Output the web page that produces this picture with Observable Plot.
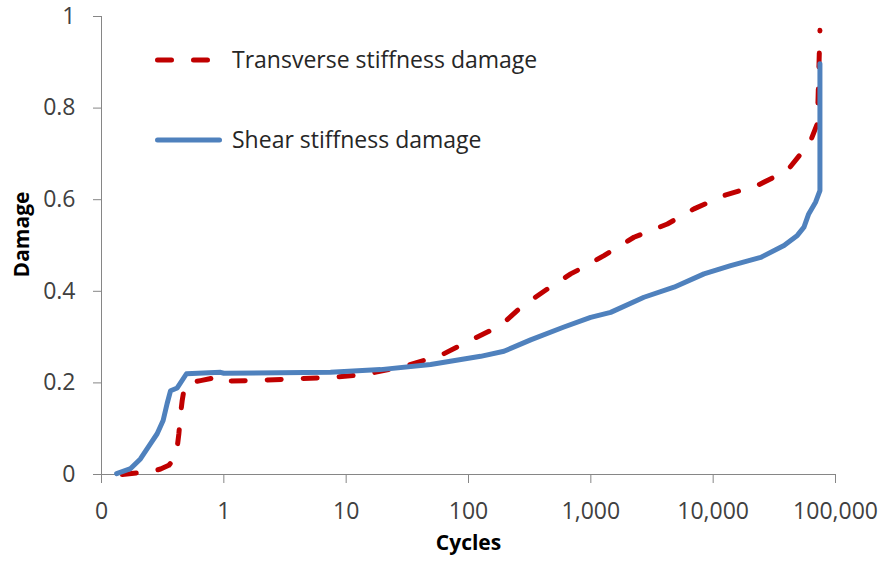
<!DOCTYPE html>
<html>
<head>
<meta charset="utf-8">
<script src="https://cdn.jsdelivr.net/npm/d3@7"></script>
<script src="https://cdn.jsdelivr.net/npm/@observablehq/plot@0.6"></script>
<style>
  html, body { margin: 0; padding: 0; background: #fff; }
  #wrap { position: relative; width: 883px; height: 567px; overflow: hidden; font-family: "Open Sans", sans-serif; }
  #legend { position: absolute; left: 0; top: 0; pointer-events: none; }
</style>
</head>
<body>
<div id="wrap">
  <div id="chart"></div>
  <svg id="legend" width="883" height="567">
    <line x1="157.5" y1="60" x2="207.5" y2="60" stroke="#C00000" stroke-width="5" stroke-dasharray="14,22" stroke-linecap="round"/>
    <text x="232" y="60" dy="0.35em" font-family="Open Sans" font-size="23" fill="#262626">Transverse stiffness damage</text>
    <line x1="157.5" y1="140" x2="219.5" y2="140" stroke="#4F81BD" stroke-width="5" stroke-linecap="round"/>
    <text x="232" y="140" dy="0.35em" font-family="Open Sans" font-size="23" fill="#262626">Shear stiffness damage</text>
  </svg>
</div>
<script>
// Transverse stiffness damage (red dashed)
const transCycles = [0.148, 0.26, 0.304, 0.355, 0.4025, 0.416, 0.429, 0.443, 0.457, 0.471, 0.495, 0.645, 0.94, 1.06, 1.65, 7.45, 14.0, 29.6, 59.1, 104, 183, 250, 322, 441, 684, 879, 1280, 2250, 4225, 6970, 12250, 22960, 40450, 51900, 62700, 71100, 74600];
const transDamage = [0, 0.007, 0.012, 0.02, 0.038, 0.06, 0.089, 0.132, 0.162, 0.183, 0.199, 0.205, 0.214, 0.204, 0.205, 0.212, 0.218, 0.236, 0.26, 0.293, 0.325, 0.358, 0.38, 0.405, 0.438, 0.453, 0.478, 0.518, 0.547, 0.58, 0.609, 0.631, 0.664, 0.70, 0.729, 0.766, 0.97];

// Shear stiffness damage (blue solid)
const shearCycles = [0.133, 0.173, 0.208, 0.251, 0.285, 0.319, 0.344, 0.367, 0.416, 0.495, 0.94, 1.0, 7.45, 19.1, 49, 125.6, 195, 322, 603, 996, 1452, 2718, 4784, 8410, 13900, 24440, 37930, 48760, 55240, 60390, 68870, 74600, 74600];
const shearDamage = [0.002, 0.013, 0.034, 0.067, 0.089, 0.118, 0.155, 0.183, 0.189, 0.22, 0.223, 0.221, 0.223, 0.229, 0.240, 0.258, 0.269, 0.294, 0.322, 0.343, 0.354, 0.387, 0.409, 0.438, 0.456, 0.474, 0.5, 0.522, 0.54, 0.569, 0.595, 0.62, 0.897];

const xTicks = [0.1, 1, 10, 100, 1000, 10000, 100000];
const yTicks = [0, 0.2, 0.4, 0.6, 0.8, 1];

const trans = transCycles.map((c, i) => ({cycles: c, damage: transDamage[i]}));
const shear = shearCycles.map((c, i) => ({cycles: c, damage: shearDamage[i]}));

const chart = Plot.plot({
  width: 883,
  height: 567,
  marginLeft: 101,
  marginRight: 48,
  marginTop: 16,
  marginBottom: 93,
  style: {fontFamily: "Open Sans", fontSize: "23px", background: "white", overflow: "visible"},
  x: {type: "log", domain: [0.1, 100000]},
  y: {domain: [0, 1]},
  marks: [
    Plot.axisY({ticks: yTicks, tickFormat: d => String(d), tickSize: 8, tickPadding: 18, stroke: "#868686", fill: "#404040", label: null, fontSize: 23}),
    Plot.axisX({ticks: xTicks, tickFormat: d => d < 1 ? "0" : d3.format(",")(d), tickSize: 9, tickPadding: 19, stroke: "#868686", fill: "#404040", label: null, fontSize: 23}),
    Plot.ruleX([0.1], {stroke: "#868686", strokeWidth: 1}),
    Plot.ruleY([0], {stroke: "#868686", strokeWidth: 1}),
    Plot.line(trans, {x: "cycles", y: "damage", stroke: "#C00000", strokeWidth: 5, strokeDasharray: "14,22", strokeLinecap: "round", strokeLinejoin: "round"}),
    Plot.line(shear, {x: "cycles", y: "damage", stroke: "#4F81BD", strokeWidth: 5, strokeLinecap: "round", strokeLinejoin: "round"}),
    Plot.text(["Damage"], {text: d => d, frameAnchor: "left", dx: -79, dy: -11, rotate: -90, textAnchor: "middle", fontWeight: "bold", fontSize: 21, fill: "#000"}),
    Plot.text(["Cycles"], {text: d => d, frameAnchor: "bottom", dy: 75, textAnchor: "middle", fontWeight: "bold", fontSize: 21, fill: "#000"})
  ]
});
document.getElementById("chart").appendChild(chart);
</script>
</body>
</html>
